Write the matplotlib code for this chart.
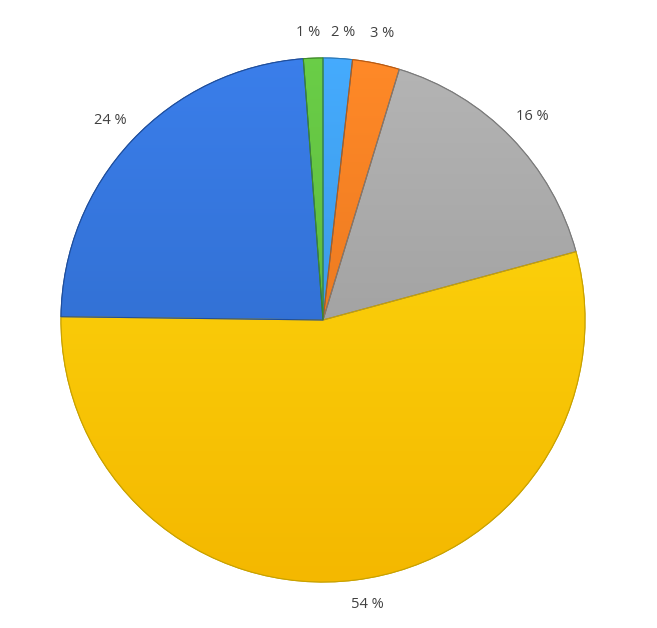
import numpy as np
import matplotlib
matplotlib.use("Agg")
import matplotlib.pyplot as plt
from matplotlib.patches import Wedge
from matplotlib.colors import to_rgb

# shares clockwise from 12 o'clock (estimated, labels shown rounded)
shares = [1.8, 2.9, 16.1, 54.4, 23.6, 1.2]
colors = ["#3A9AE8", "#F47A1E", "#A3A3A3", "#FFD400", "#3070D6", "#5DBB3C"]
edges = ["#2A78B8", "#B85A12", "#7A7A7A", "#C9A200", "#1F4E9C", "#3E8A27"]
labels = [f"{v:.0f} %" for v in shares]

plt.rcParams["font.family"] = ["Open Sans", "DejaVu Sans"]

fig = plt.figure(figsize=(6.57, 6.28), dpi=100)
ax = fig.add_axes([0, 0, 1, 1])

cx, cy, r = 323, 628 - 320, 262
wedges, texts = ax.pie(
    shares,
    labels=labels,
    colors=colors,
    startangle=90,
    counterclock=False,
    radius=r,
    center=(cx, cy),
    labeldistance=1.115,
    wedgeprops=dict(linewidth=0.8),
    textprops=dict(fontsize=10.5, color="#404040"),
    frame=True,
)

# soft vertical shading inside each slice (lighter at the top)
yy = np.linspace(0, 1, 256)[:, None, None]
for w, c, ec in zip(wedges, colors, edges):
    w.set_edgecolor(ec)
    base = np.array(to_rgb(c))
    top = np.minimum(base * 1.06 + 0.03, 1)
    bot = base * 0.9
    if c == "#FFD400":
        top = np.array(to_rgb("#FFDC10"))
        bot = np.array(to_rgb("#F4B800"))
    grad = (1 - yy) * top + yy * bot
    grad = np.repeat(grad, 2, axis=1)
    im = ax.imshow(grad, extent=(cx - r, cx + r, cy - r, cy + r),
                   origin="upper", aspect="auto", zorder=w.get_zorder() + 0.1)
    im.set_clip_path(w)
    ax.add_patch(Wedge((cx, cy), r, w.theta1, w.theta2, facecolor="none",
                       edgecolor=ec, linewidth=0.8, zorder=w.get_zorder() + 0.2))

ax.set_xlim(0, 657)
ax.set_ylim(0, 628)
ax.set_aspect("equal")
ax.axis("off")

for t in texts:
    x, y = t.get_position()
    dx = x - cx
    if abs(dx) < 40 and y > cy:
        # spread the crowded labels at the top a little
        t.set_position((x + np.sign(dx) * 4, y - 4))
    elif y < cy:
        t.set_position((x + 8, y + 5))
    t.set_ha("center")
    t.set_va("center")

fig.savefig("out.png", dpi=100, facecolor="white")
